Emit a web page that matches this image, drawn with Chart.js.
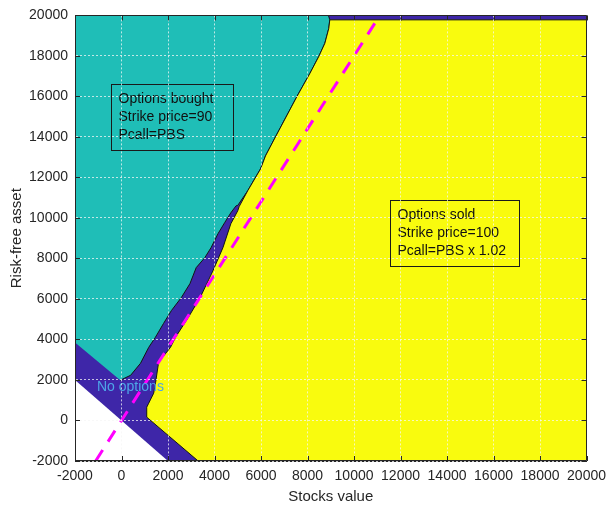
<!DOCTYPE html>
<html>
<head>
<meta charset="utf-8">
<title>Portfolio regions</title>
<script src="https://cdn.jsdelivr.net/npm/chart.js@4.4.0/dist/chart.umd.min.js"></script>
<style>
  html, body { margin: 0; padding: 0; background: #fff; }
  #wrap { width: 613px; height: 508px; position: relative; }
</style>
</head>
<body>
<div id="wrap"><canvas id="regions"></canvas></div>
<script>
// axis limits and tick spacing
const xRange = [-2000, 20000];
const yRange = [-2000, 20000];
const tickStep = 2000;

// whole plot area, shown where no other region covers it (no position held)
const plotRegion = [[-2000, -2000], [20000, -2000], [20000, 20000], [-2000, 20000], [-2000, -2000]];

// below x + y = 0
const whiteRegion = [[-2000, 2000], [2000, -2000], [-2000, -2000], [-2000, 2000]];

// options bought (strike 90)
const boughtRegion = [
  [-2000, 20000], [8900, 20000], [8957, 19780], [8915, 19360], [8745, 18622],
  [8489, 17982], [8106, 17145], [7553, 16013], [6574, 13897], [6191, 13060],
  [5979, 12421], [5425, 11338], [5000, 10620], [4928, 10600], [4702, 10255],
  [4434, 9763], [4149, 9222], [3851, 8533], [3583, 8040], [3213, 7548],
  [2945, 6760], [2574, 6072], [2149, 5432], [1808, 4792], [1455, 4103],
  [1170, 3611], [817, 2823], [391, 2232], [-50, 1990],
  [-2000, 3850], [-2000, 20000]
];

// options sold (strike 100)
const soldRegion = [
  [8957, 19780], [20000, 19780], [20000, -2000], [3298, -2000], [1085, 166],
  [1085, 658], [1170, 855], [1383, 1347], [1468, 1888], [1596, 2873],
  [2106, 3611], [2319, 4103], [2872, 5087], [3383, 6071], [3936, 7400],
  [4362, 8533], [4702, 9714], [5000, 10354], [5060, 10560], [5425, 11338],
  [5979, 12421], [6191, 13060], [6574, 13897], [7553, 16013], [8106, 17145],
  [8489, 17982], [8745, 18622], [8915, 19360], [8957, 19780]
];

// dashed line y = 1.8 x
const lineX = [-1111, 11111];
const lineY = [-2000, 20000];

const boughtText = ['Options bought', 'Strike price=90', 'Pcall=PBS'];
const soldText = ['Options sold', 'Strike price=100', 'Pcall=PBS x 1.02'];
const neutralText = 'No options';

const toPoints = arr => arr.map(p => ({ x: p[0], y: p[1] }));

const FONT = 'Liberation Sans, Arial, Helvetica, sans-serif';
const INK = '#262626';
const EDGE = '#151515';

// the bought region is outlined only from the top edge down to the V bottom
const boughtEdgeEnd = boughtRegion.findIndex(p => p[0] === -50);
const boughtEdge = boughtRegion.slice(1, boughtEdgeEnd + 1);

function polygon(label, pts, color, order, extra) {
  return Object.assign({
    label: label,
    data: toPoints(pts),
    showLine: true,
    fill: 'shape',
    backgroundColor: color,
    borderColor: EDGE,
    borderWidth: 0,
    pointRadius: 0,
    tension: 0,
    order: order
  }, extra || {});
}

// text boxes and free labels
const notesPlugin = {
  id: 'notes',
  afterDatasetsDraw(chart, args, opts) {
    const { ctx, scales: { x, y } } = chart;
    ctx.save();
    ctx.font = '14px ' + FONT;
    ctx.textBaseline = 'middle';
    ctx.textAlign = 'left';
    for (const box of opts.boxes) {
      const left = Math.round(x.getPixelForValue(box.at[0])) + 0.5;
      const top = Math.round(y.getPixelForValue(box.at[1])) + 0.5;
      ctx.strokeStyle = '#1a1a1a';
      ctx.lineWidth = 1;
      ctx.strokeRect(left, top, box.width, box.height);
      ctx.fillStyle = '#111';
      box.lines.forEach((t, i) => ctx.fillText(t, left + 7, top + 15 + i * 18));
    }
    for (const lbl of opts.labels) {
      ctx.fillStyle = lbl.color;
      ctx.fillText(lbl.text, x.getPixelForValue(lbl.at[0]), y.getPixelForValue(lbl.at[1]));
    }
    ctx.restore();
  }
};

// MATLAB-style box: top/right edges and inward ticks
const framePlugin = {
  id: 'frame',
  afterDraw(chart) {
    const { ctx, chartArea: a, scales: { x, y } } = chart;
    ctx.save();
    ctx.strokeStyle = INK;
    ctx.lineWidth = 1;
    ctx.beginPath();
    ctx.rect(Math.round(a.left) + 0.5, Math.round(a.top) + 0.5,
      Math.round(a.right - a.left) - 1, Math.round(a.bottom - a.top) - 1);
    ctx.stroke();
    ctx.beginPath();
    for (const t of x.ticks) {
      const px = Math.round(x.getPixelForValue(t.value)) + 0.5;
      ctx.moveTo(px, a.bottom); ctx.lineTo(px, a.bottom - 5);
      ctx.moveTo(px, a.top); ctx.lineTo(px, a.top + 5);
    }
    for (const t of y.ticks) {
      const py = Math.round(y.getPixelForValue(t.value)) + 0.5;
      ctx.moveTo(a.left, py); ctx.lineTo(a.left + 5, py);
      ctx.moveTo(a.right, py); ctx.lineTo(a.right - 5, py);
    }
    ctx.stroke();
    ctx.restore();
  }
};

const gridOpts = {
  color: 'rgba(245,245,245,0.75)',
  lineWidth: 1,
  drawTicks: false,
  tickLength: 0,
  z: 1
};

new Chart(document.getElementById('regions'), {
  type: 'scatter',
  data: {
    datasets: [
      {
        label: 'y = 1.8x',
        data: lineX.map((v, i) => ({ x: v, y: lineY[i] })),
        showLine: true,
        borderColor: '#ff00ff',
        borderWidth: 3,
        borderDash: [13, 10],
        pointRadius: 0,
        fill: false,
        order: 0
      },
      polygon('Options sold', soldRegion, 'rgb(249,251,14)', 1, { borderWidth: 1 }),
      {
        label: 'Options bought edge',
        data: toPoints(boughtEdge),
        showLine: true,
        fill: false,
        borderColor: EDGE,
        borderWidth: 1,
        pointRadius: 0,
        tension: 0,
        order: 2
      },
      polygon('Options bought', boughtRegion, 'rgb(31,190,183)', 3),
      polygon('No position', whiteRegion, '#ffffff', 4),
      polygon('Mixed', plotRegion, 'rgb(62,38,168)', 5)
    ]
  },
  options: {
    responsive: true,
    maintainAspectRatio: false,
    animation: false,
    events: [],
    layout: { padding: { top: 14, right: 21, left: 0, bottom: 0 } },
    plugins: {
      legend: { display: false },
      tooltip: { enabled: false },
      notes: {
        boxes: [
          { lines: boughtText, at: [-447, 16590], width: 122, height: 66 },
          { lines: soldText, at: [11553, 10895], width: 129, height: 66 }
        ],
        labels: [
          { text: neutralText, at: [-1055, 1642], color: 'rgb(77,166,232)' }
        ]
      }
    },
    scales: {
      x: {
        type: 'linear',
        min: xRange[0],
        max: xRange[1],
        grid: gridOpts,
        border: { display: true, color: INK, dash: [2, 2], z: 1 },
        ticks: {
          stepSize: tickStep,
          padding: 7,
          color: INK,
          font: { family: FONT, size: 14 },
          maxRotation: 0,
          autoSkip: false,
          callback: v => String(v)
        },
        title: {
          display: true,
          text: 'Stocks value',
          color: INK,
          font: { family: FONT, size: 15 },
          padding: { top: 0, bottom: 2 }
        },
        afterFit(scale) { scale.height = 47; }
      },
      y: {
        type: 'linear',
        min: yRange[0],
        max: yRange[1],
        grid: gridOpts,
        border: { display: true, color: INK, dash: [2, 2], z: 1 },
        ticks: {
          stepSize: tickStep,
          padding: 7,
          color: INK,
          font: { family: FONT, size: 14 },
          autoSkip: false,
          callback: v => String(v)
        },
        title: {
          display: true,
          text: 'Risk-free asset',
          color: INK,
          font: { family: FONT, size: 15 },
          padding: { top: 8, bottom: 0 }
        },
        afterFit(scale) { scale.width = 75; }
      }
    }
  },
  plugins: [notesPlugin, framePlugin]
});
</script>
</body>
</html>
